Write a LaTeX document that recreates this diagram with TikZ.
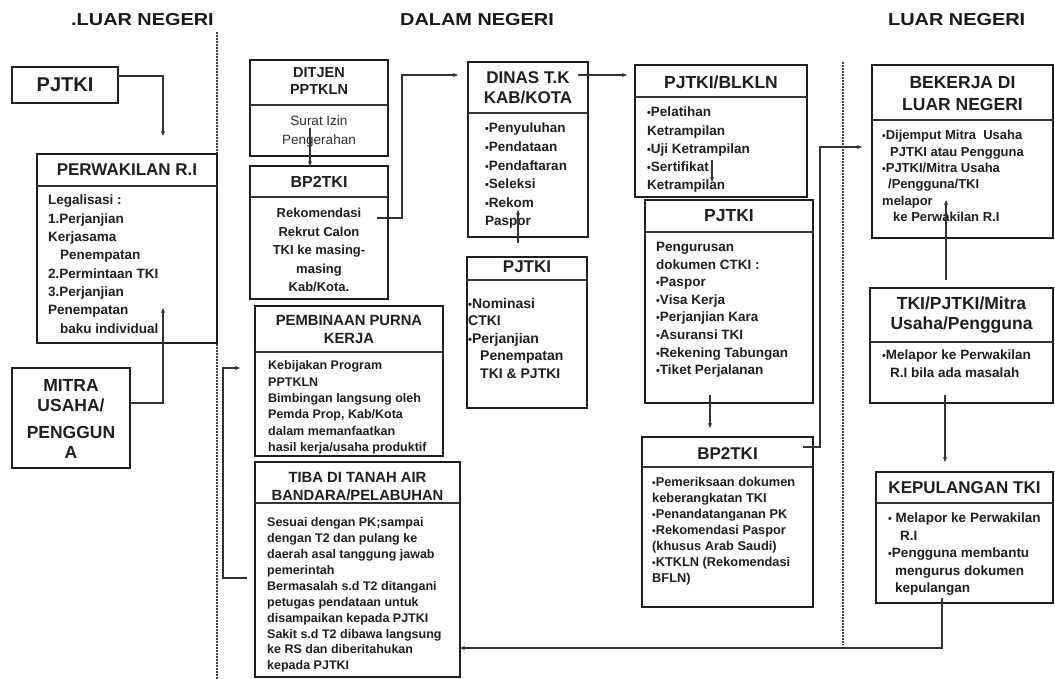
\documentclass[tikz,border=0pt]{standalone}
\usepackage{fontspec}
\setmainfont{Liberation Sans}
\newfontfamily\hdrfont[FakeStretch=1.15]{Liberation Sans}
\usetikzlibrary{arrows.meta,calc}
\newcommand\fs[2]{\fontsize{#1}{#2}\selectfont}
\newcommand\bu{\scalebox{0.8}{•}}
\newcommand\ind[1]{\hspace*{#1pt}}
\newcommand\mkbox[5]{%
  \node[bxs, minimum width={(#4-#2)*1pt}, minimum height={(#5-#3)*1pt}] (#1) at ({(#2+#4)/2},{(#3+#5)/2}) {};}
\newcommand\mkdiv[2]{\draw[divl] (#1.west |- 0,#2) -- (#1.east |- 0,#2);}
\begin{document}
\begin{tikzpicture}[x=1pt,y=-1pt,
  bxs/.style={draw=black!88, line width=2.6pt, inner sep=0pt, outer sep=0pt},
  divl/.style={draw=black!80, line width=1.2pt},
  conn/.style={draw=black!80, line width=1.2pt, -{Stealth[length=5pt,width=4pt]}},
  ttl/.style={text=black!88, align=center, inner sep=0pt},
  bdy/.style={text=black!88, align=left, anchor=north west, inner sep=0pt},
  dotl/.style={draw=black!75, line width=1.6pt, dash pattern=on 1.6pt off 1.4pt},
  hdr/.style={font=\hdrfont\bfseries\fs{17.3}{20}, text=black!90, anchor=base west, inner sep=0pt}]
\fill[white] (0,0) rectangle (1055,679);
\useasboundingbox (0,0) rectangle (1055,679);
% headers and separators
\node[hdr] (hl) at (71,26) {.LUAR NEGERI};
\node[hdr] (hc) at (400,26) {DALAM NEGERI};
\node[hdr] (hr) at (888,26) {LUAR NEGERI};
\draw[dotl] (217,32) -- (217,679);
\draw[dotl] (843,62) -- (843,645);
% boxes
\mkbox{pjl}{12}{67}{118}{103}
\mkbox{perw}{37}{154}{217}{343}\mkdiv{perw}{186}
\mkbox{mitra}{12}{368}{130}{468}
\mkbox{ditjen}{250}{60}{388}{156}\mkdiv{ditjen}{105}
\mkbox{bp2l}{250}{166}{388}{299}\mkdiv{bp2l}{197}
\mkbox{pemb}{255}{306}{443}{456}\mkdiv{pemb}{352}
\mkbox{tiba}{255}{462}{460}{677}\mkdiv{tiba}{503}
\mkbox{dinas}{468}{62}{588}{237}\mkdiv{dinas}{113}
\mkbox{pjm}{467}{257}{587}{408}\mkdiv{pjm}{280}
\mkbox{blkln}{635}{65}{807}{197}\mkdiv{blkln}{97}
\mkbox{pjr}{645}{200}{813}{403}\mkdiv{pjr}{232}
\mkbox{bp2r}{642}{437}{813}{607}\mkdiv{bp2r}{467}
\mkbox{bek}{872}{65}{1053}{238}\mkdiv{bek}{120}
\mkbox{tkip}{870}{288}{1053}{403}\mkdiv{tkip}{342}
\mkbox{kep}{876}{472}{1053}{603}\mkdiv{kep}{503}
% texts
\node[ttl, font=\bfseries\fs{20}{24}] (pjl-t) at (pjl.center) {PJTKI};
\node[ttl, font=\bfseries\fs{17}{20}] (perw-t) at (127,170) {PERWAKILAN R.I};
\node[bdy, font=\bfseries\fs{13.5}{18.3}] (perw-b) at (48,195) {Legalisasi :\\1.Perjanjian\\Kerjasama\\\ind{12}Penempatan\\2.Permintaan TKI\\3.Perjanjian\\Penempatan\\\ind{12}baku individual};
\node[ttl, font=\bfseries\fs{17.5}{20}] (mitra-t) at (71,418.5) {MITRA\\USAHA/\\[7pt]PENGGUN\\A};
\node[ttl, font=\bfseries\fs{14.5}{17}] (dj-t) at (319,81.5) {DITJEN\\PPTKLN};
\node[ttl, font=\fs{13.5}{19}, text=black!82] (dj-b) at (319,131.5) {Surat Izin\\Pengerahan};
\node[ttl, font=\bfseries\fs{16}{19}] (bp2l-t) at (319,182) {BP2TKI};
\node[ttl, font=\bfseries\fs{13}{18.5}] (bp2l-b) at (319,250) {Rekomendasi\\Rekrut Calon\\TKI ke masing-\\masing\\Kab/Kota.};
\node[ttl, font=\bfseries\fs{14.8}{18}] (pemb-t) at (349,329) {PEMBINAAN PURNA\\KERJA};
\node[bdy, font=\bfseries\fs{12.5}{16.4}] (pemb-b) at (268,360.5) {Kebijakan Program\\PPTKLN\\Bimbingan langsung oleh\\Pemda Prop, Kab/Kota\\dalam memanfaatkan\\hasil kerja/usaha produktif};
\node[ttl, font=\bfseries\fs{14.8}{17.5}] (tiba-t) at (357.5,486.5) {TIBA DI TANAH AIR\\BANDARA/PELABUHAN};
\node[bdy, font=\bfseries\fs{12.5}{15.9}] (tiba-b) at (267,517.5) {Sesuai dengan PK;sampai\\dengan T2 dan pulang ke\\daerah asal tanggung jawab\\pemerintah\\Bermasalah s.d T2 ditangani\\petugas pendataan untuk\\disampaikan kepada PJTKI\\Sakit s.d T2 dibawa langsung\\ke RS dan diberitahukan\\kepada PJTKI};
\node[ttl, font=\bfseries\fs{17}{20}] (dinas-t) at (528,88) {DINAS T.K\\KAB/KOTA};
\node[bdy, font=\bfseries\fs{13.5}{18.6}] (dinas-b) at (485,123) {\bu Penyuluhan\\\bu Pendataan\\\bu Pendaftaran\\\bu Seleksi\\\bu Rekom\\Paspor};
\node[ttl, font=\bfseries\fs{17}{20}] (pjm-t) at (527,267) {PJTKI};
\node[bdy, font=\bfseries\fs{14}{17.5}] (pjm-b) at (468,298) {\bu Nominasi\\CTKI\\\bu Perjanjian\\\ind{12}Penempatan\\\ind{12}TKI \& PJTKI};
\node[ttl, font=\bfseries\fs{17.5}{20}] (blk-t) at (721,82) {PJTKI/BLKLN};
\node[bdy, font=\bfseries\fs{13.5}{18.2}] (blk-b) at (647,107) {\bu Pelatihan\\Ketrampilan\\\bu Uji Ketrampilan\\\bu Sertifikat\\Ketrampilan};
\node[ttl, font=\bfseries\fs{17.5}{20}] (pjr-t) at (729,216) {PJTKI};
\node[bdy, font=\bfseries\fs{13.5}{17.6}] (pjr-b) at (656,242) {Pengurusan\\dokumen CTKI :\\\bu Paspor\\\bu Visa Kerja\\\bu Perjanjian Kara\\\bu Asuransi TKI\\\bu Rekening Tabungan\\\bu Tiket Perjalanan};
\node[ttl, font=\bfseries\fs{17}{20}] (bp2r-t) at (727.5,454) {BP2TKI};
\node[bdy, font=\bfseries\fs{12.8}{16}] (bp2r-b) at (652,477.5) {\bu Pemeriksaan dokumen\\keberangkatan TKI\\\bu Penandatanganan PK\\\bu Rekomendasi Paspor\\(khusus Arab Saudi)\\\bu KTKLN (Rekomendasi\\BFLN)};
\node[ttl, font=\bfseries\fs{17.5}{22}] (bek-t) at (962.5,94) {BEKERJA DI\\LUAR NEGERI};
\node[bdy, font=\bfseries\fs{13}{16.4}] (bek-b) at (882,130) {\bu Dijemput Mitra\ \ Usaha\\\ind{8}PJTKI atau Pengguna\\\bu PJTKI/Mitra Usaha\\\ind{6}/Pengguna/TKI\\melapor\\\ind{11}ke Perwakilan R.I};
\node[ttl, font=\bfseries\fs{17.5}{20}] (tkip-t) at (961.5,315) {TKI/PJTKI/Mitra\\Usaha/Pengguna};
\node[bdy, font=\bfseries\fs{13.5}{18}] (tkip-b) at (882,350) {\bu Melapor ke Perwakilan\\\ind{8}R.I bila ada masalah};
\node[ttl, font=\bfseries\fs{17}{20}] (kep-t) at (964.5,488) {KEPULANGAN TKI};
\node[bdy, font=\bfseries\fs{13.5}{17.5}] (kep-b) at (888,513) {\bu\ Melapor ke Perwakilan\\\ind{12}R.I\\\bu Pengguna membantu\\\ind{7}mengurus dokumen\\\ind{7}kepulangan};
% connector anchor points
\coordinate (perwin) at (163,308);
\coordinate (dj) at (310,128);
\coordinate (bl1) at (377,218);
\coordinate (dn1) at (578,75);
\coordinate (dn2) at (518,210);
\coordinate (bk1) at (712,160);
\coordinate (pr0) at (712,182);
\coordinate (pr1) at (710,395);
\coordinate (br1) at (803,447);
\coordinate (bk2) at (946,200);
\coordinate (tk1) at (945,395);
\coordinate (kp1) at (942,598);
% connectors
\draw[conn, shorten >=18pt] (pjl.east |- 0,76) -| (perw.north -| perwin);
\draw[conn] (mitra.east |- 0,403) -| (perwin);
\draw[conn] (dj) -- (bp2l.north -| dj);
\draw[conn, shorten >=10pt] (bl1) -- ++(25,0) |- (dinas.west |- dn1);
\draw[conn, shorten >=8pt] (dn1) -- (blkln.west |- dn1);
\draw[conn, shorten <=14pt] (pjm.north -| dn2) -- (dn2);
\draw[conn] (bk1) -- (pr0);
\draw[conn, shorten >=9pt] (pr1) -- (bp2r.north -| pr1);
\draw[conn, shorten >=10pt] (br1) -- ++(17,0) |- (bek.west |- 0,147);
\draw[conn, shorten <=8pt] (tkip.north -| bk2) -- (bk2);
\draw[conn, shorten >=10pt] (tk1) -- (kep.north -| tk1);
\draw[conn] (kp1) |- (tiba.east |- 0,648);
\draw[conn, shorten <=8pt, shorten >=15pt] (tiba.west |- 0,578) -- ++(-32,0) |- (pemb.west |- 0,368);
\end{tikzpicture}
\end{document}
